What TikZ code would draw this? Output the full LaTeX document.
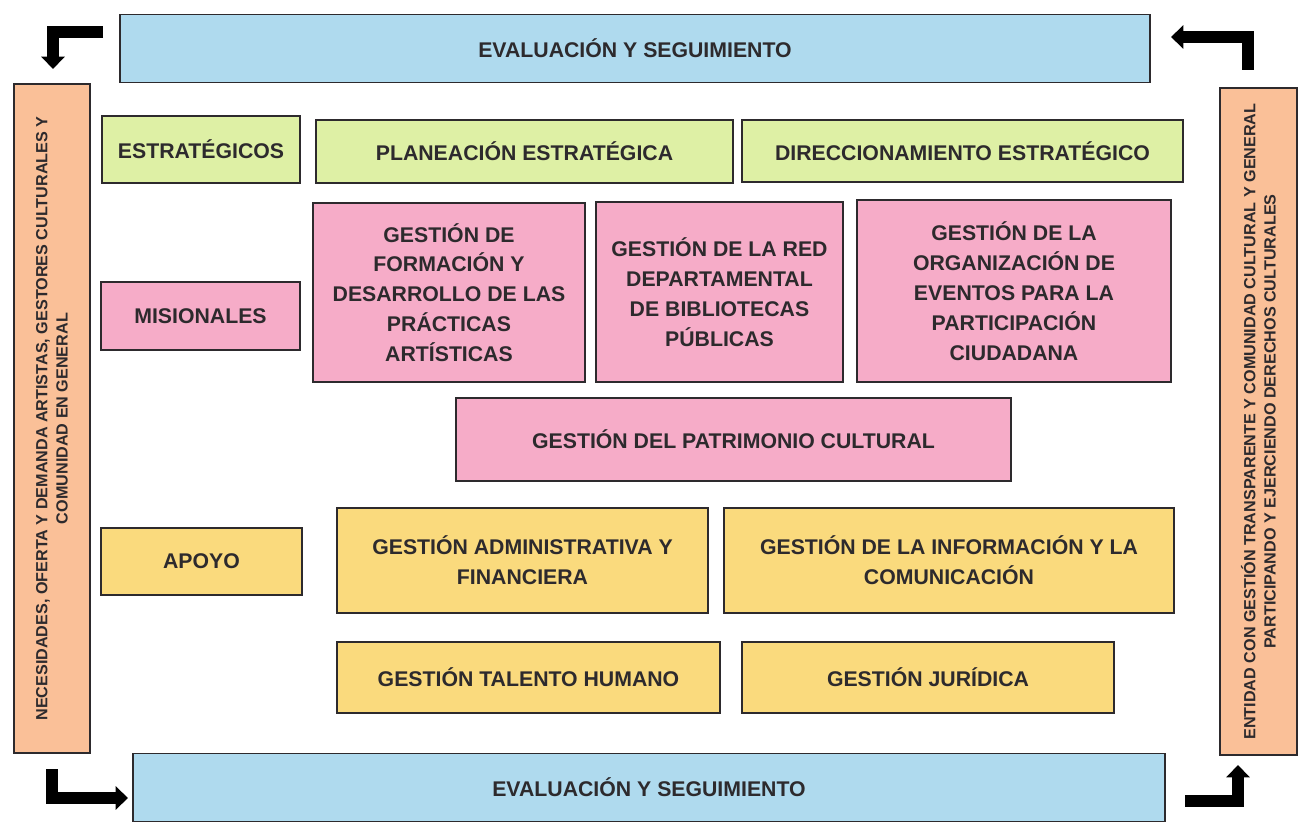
\documentclass[tikz,border=0pt]{standalone}
\usepackage{fontspec}
\setmainfont{Liberation Sans}
\usetikzlibrary{arrows.meta}
\definecolor{evalblue}{RGB}{175,218,238}
\definecolor{sideorange}{RGB}{250,192,152}
\definecolor{estrgreen}{RGB}{222,240,165}
\definecolor{misipink}{RGB}{246,172,200}
\definecolor{apoyoyellow}{RGB}{250,218,125}
\definecolor{inkgray}{RGB}{45,42,45}

\begin{document}
\begin{tikzpicture}[
x=0.02cm, y=-0.02cm,
box/.style = {draw=inkgray, line width=1.1pt, text=inkgray, align=center,
  inner sep=2pt, font=\fontsize{12.1}{17}\selectfont\bfseries,
  minimum width=#1},
eval/.style = {box=20.6cm, fill=evalblue, minimum height=1.36cm},
side/.style = {box=13.4cm, fill=sideorange, minimum height=1.53cm, rotate=90,
  font=\fontsize{9.2}{11.5}\selectfont\bfseries},
estr/.style = {box=#1, fill=estrgreen},
misi/.style = {box=#1, fill=misipink},
apoyo/.style = {box=#1, fill=apoyoyellow},
turn/.style = {line width=6.5pt, -{Triangle[length=7pt, width=13pt]}, black}
                        ]
\useasboundingbox (0,0) rectangle (1299,831);

    \node[eval] (evtop) at (635,48.5) {EVALUACIÓN Y SEGUIMIENTO};
    \node[eval, minimum width=20.64cm] (evbot) at (649,787.5) {EVALUACIÓN Y SEGUIMIENTO};
    \node[side] (needs) at (52,418.5) {NECESIDADES, OFERTA Y DEMANDA ARTISTAS, GESTORES CULTURALES Y\\COMUNIDAD EN GENERAL};
    \node[side, minimum width=13.34cm] (entity) at (1258.5,421.5) {ENTIDAD CON GESTIÓN TRANSPARENTE Y COMUNIDAD CULTURAL Y GENERAL\\PARTICIPANDO Y EJERCIENDO DERECHOS CULTURALES};

    % estrategicos
    \node[estr=3.96cm, minimum height=1.34cm] (estr) at (201,149.5) {ESTRATÉGICOS};
    \node[estr=8.34cm, minimum height=1.26cm] (plan) at (524.5,151.5) {PLANEACIÓN ESTRATÉGICA};
    \node[estr=8.82cm, minimum height=1.24cm] (dir) at (962.5,151) {DIRECCIONAMIENTO ESTRATÉGICO};

    % misionales
    \node[misi=3.98cm, minimum height=1.36cm] (misi) at (200.5,316) {MISIONALES};
    \node[misi=5.44cm, minimum height=3.58cm] (form) at (449,292.5) {GESTIÓN DE\\FORMACIÓN Y\\DESARROLLO DE LAS\\PRÁCTICAS\\ARTÍSTICAS};
    \node[misi=4.94cm, minimum height=3.6cm] (red) at (719.5,292) {GESTIÓN DE LA RED\\DEPARTAMENTAL\\DE BIBLIOTECAS\\PÚBLICAS};
    \node[misi=6.28cm, minimum height=3.64cm] (org) at (1014,291) {GESTIÓN DE LA\\ORGANIZACIÓN DE\\EVENTOS PARA LA\\PARTICIPACIÓN\\CIUDADANA};
    \node[misi=11.1cm, minimum height=1.66cm] (patr) at (733.5,439.5) {GESTIÓN DEL PATRIMONIO CULTURAL};

    % apoyo
    \node[apoyo=4.02cm, minimum height=1.34cm] (apoyo) at (201.5,561.5) {APOYO};
    \node[apoyo=7.42cm, minimum height=2.1cm] (adm) at (522.5,560.5) {GESTIÓN ADMINISTRATIVA Y\\FINANCIERA};
    \node[apoyo=9cm, minimum height=2.1cm] (info) at (949,560.5) {GESTIÓN DE LA INFORMACIÓN Y LA\\COMUNICACIÓN};
    \node[apoyo=7.66cm, minimum height=1.42cm] (tal) at (528.5,677.5) {GESTIÓN TALENTO HUMANO};
    \node[apoyo=7.44cm, minimum height=1.42cm] (jur) at (928,677.5) {GESTIÓN JURÍDICA};

    % flechas de esquina
    \coordinate (tl) at (103,32);
    \coordinate (tlend) at (53,69);
    \coordinate (tr) at (1248,70);
    \coordinate (trend) at (1171,37);
    \coordinate (bl) at (52,769);
    \coordinate (blend) at (128,798);
    \coordinate (br) at (1185,801);
    \coordinate (brend) at (1238,765);
    \draw[turn] (tl) -| (tlend);
    \draw[turn] (tr) |- (trend);
    \draw[turn] (bl) |- (blend);
    \draw[turn] (br) -| (brend);

\end{tikzpicture}
\end{document}
